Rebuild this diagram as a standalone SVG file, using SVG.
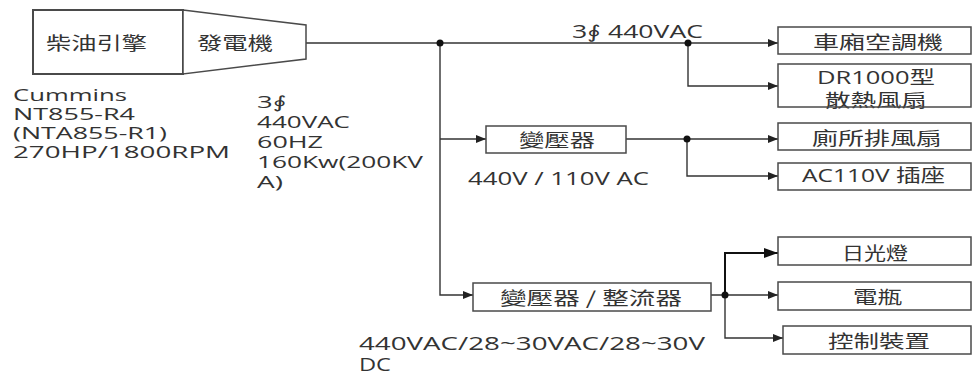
<svg xmlns="http://www.w3.org/2000/svg" width="973" height="376" viewBox="0 0 973 376">
<style>
.box{fill:#fff;stroke:#4a4a4a;stroke-width:1.5}
.ln{fill:none;stroke:#333;stroke-width:1.4}
.lnb{fill:none;stroke:#111;stroke-width:2}
.dot{fill:#111}
.cjk{font-family:"Noto Sans CJK TC","Noto Sans CJK SC",sans-serif;font-size:18px;fill:#333;dominant-baseline:central}
.lat{font-family:"Open Sans","Noto Sans CJK TC",sans-serif;font-size:18px;fill:#333}
.blk{font-size:17px}
.phi{font-family:"DejaVu Sans",sans-serif}
</style>
<defs>
<marker id="ah" markerUnits="userSpaceOnUse" markerWidth="10" markerHeight="8" refX="10" refY="4" orient="auto"><path d="M0,0 L10,4 L0,8 z" fill="#222"/></marker>
<marker id="ahb" markerUnits="userSpaceOnUse" markerWidth="14" markerHeight="10" refX="14" refY="5" orient="auto"><path d="M0,0 L14,5 L0,10 z" fill="#111"/></marker>
</defs>
<g id="connectors">
<path class="ln" d="M306,43 H778" marker-end="url(#ah)"/>
<path class="ln" d="M688,43 V86 H778" marker-end="url(#ah)"/>
<path class="ln" d="M440,43 V295 H473" marker-end="url(#ah)"/>
<path class="ln" d="M440,139 H486" marker-end="url(#ah)"/>
<path class="ln" d="M626,139 H778" marker-end="url(#ah)"/>
<path class="ln" d="M687,139 V176 H778" marker-end="url(#ah)"/>
<path class="ln" d="M711,295 H778" marker-end="url(#ah)"/>
<path class="lnb" d="M725,295 V253 H778" marker-end="url(#ahb)"/>
<path class="ln" d="M725,295 V338 H783" marker-end="url(#ah)"/>
<circle class="dot" cx="440" cy="43" r="3.5"/>
<circle class="dot" cx="688" cy="43" r="3.5"/>
<circle class="dot" cx="687" cy="139" r="3.5"/>
<circle class="dot" cx="725" cy="295" r="3.5"/>
<text class="lat" x="572" y="38" font-size="16" textLength="131" lengthAdjust="spacingAndGlyphs">3<tspan class="phi">∮</tspan> 440VAC</text>
<text class="lat" x="468" y="185" textLength="181" lengthAdjust="spacingAndGlyphs">440V / 110V AC</text>
<text class="lat"><tspan x="359" y="350" textLength="346" lengthAdjust="spacingAndGlyphs">440VAC/28~30VAC/28~30V</tspan><tspan x="359" y="371" textLength="32" lengthAdjust="spacingAndGlyphs">DC</tspan></text>
</g>
<g id="engine">
<rect class="box" x="33" y="10" width="150" height="64" style="stroke-width:2"/>
<text class="cjk" x="46" y="42" textLength="101" lengthAdjust="spacingAndGlyphs">柴油引擎</text>
<text class="lat blk"><tspan x="13" y="101" textLength="114" lengthAdjust="spacingAndGlyphs">Cummins</tspan><tspan x="13" y="120" textLength="122" lengthAdjust="spacingAndGlyphs">NT855-R4</tspan><tspan x="13" y="139" textLength="154" lengthAdjust="spacingAndGlyphs">(NTA855-R1)</tspan><tspan x="13" y="158" textLength="217" lengthAdjust="spacingAndGlyphs">270HP/1800RPM</tspan></text>
</g>
<g id="generator">
<polygon class="box" points="183,10 306,25 306,59 183,74"/>
<text class="cjk" x="197" y="42" textLength="76" lengthAdjust="spacingAndGlyphs">發電機</text>
<text class="lat blk"><tspan x="257" y="108" textLength="30" lengthAdjust="spacingAndGlyphs">3<tspan class="phi">∮</tspan></tspan><tspan x="257" y="128" textLength="93" lengthAdjust="spacingAndGlyphs">440VAC</tspan><tspan x="257" y="148" textLength="66" lengthAdjust="spacingAndGlyphs">60HZ</tspan><tspan x="257" y="168" textLength="166" lengthAdjust="spacingAndGlyphs">160Kw(200KV</tspan><tspan x="257" y="188" textLength="26" lengthAdjust="spacingAndGlyphs">A)</tspan></text>
</g>
<g id="aircon">
<rect class="box" x="778" y="27" width="193" height="27"/>
<text class="cjk" x="813" y="41" textLength="130" lengthAdjust="spacingAndGlyphs">車廂空調機</text>
</g>
<g id="fan">
<text class="lat"><tspan x="817" y="84" textLength="118" lengthAdjust="spacingAndGlyphs">DR1000型</tspan><tspan x="825" y="107" textLength="102" lengthAdjust="spacingAndGlyphs" style="font-family:'Noto Sans CJK TC',sans-serif">散熱風扇</tspan></text>
<rect x="778" y="64" width="193" height="43" fill="none" stroke="#4a4a4a" stroke-width="1.5"/>
</g>
<g id="transformer">
<rect class="box" x="486" y="126" width="140" height="27"/>
<text class="cjk" x="519" y="139" textLength="76" lengthAdjust="spacingAndGlyphs">變壓器</text>
</g>
<g id="toiletfan">
<rect class="box" x="778" y="123" width="193" height="27"/>
<text class="cjk" x="812" y="137" textLength="130" lengthAdjust="spacingAndGlyphs">廁所排風扇</text>
</g>
<g id="socket">
<rect class="box" x="778" y="163" width="193" height="27"/>
<text class="lat" x="802" y="182" textLength="143" lengthAdjust="spacingAndGlyphs">AC110V 插座</text>
</g>
<g id="rectifier">
<rect class="box" x="473" y="283" width="238" height="28"/>
<text class="cjk" x="500" y="297" textLength="182" lengthAdjust="spacingAndGlyphs">變壓器 / 整流器</text>
</g>
<g id="lamp">
<rect class="box" x="778" y="237" width="193" height="28"/>
<text class="cjk" x="842" y="252" textLength="66" lengthAdjust="spacingAndGlyphs">日光燈</text>
</g>
<g id="battery">
<rect class="box" x="778" y="282" width="193" height="28"/>
<text class="cjk" x="853" y="296" textLength="49" lengthAdjust="spacingAndGlyphs">電瓶</text>
</g>
<g id="control">
<rect class="box" x="783" y="326" width="188" height="28"/>
<text class="cjk" x="828" y="340" textLength="102" lengthAdjust="spacingAndGlyphs">控制裝置</text>
</g>
</svg>
